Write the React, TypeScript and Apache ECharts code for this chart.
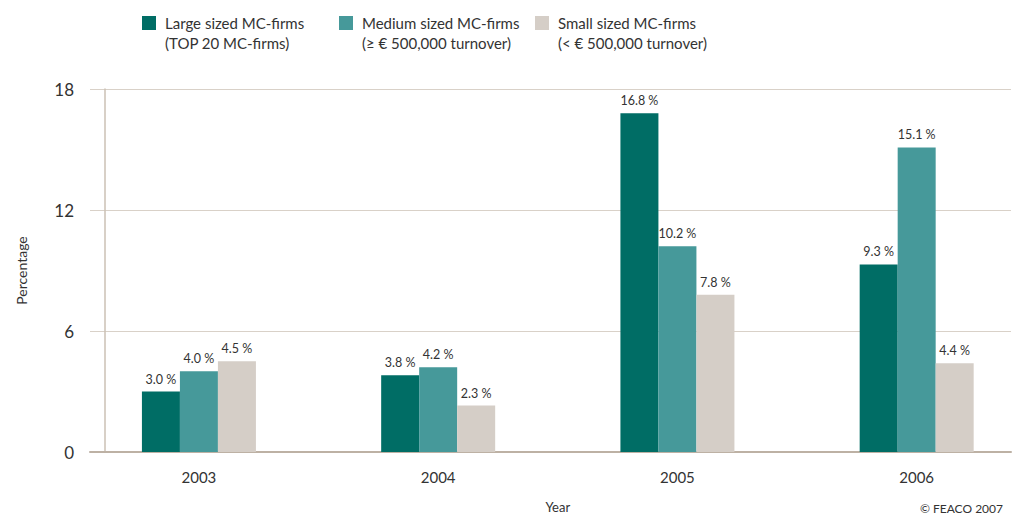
import React, { useEffect, useRef } from "react";
import * as echarts from "echarts";

// Years on the category axis
const years = ["2003", "2004", "2005", "2006"];

// Growth per firm size class, in percent
const largeFirms = [3.0, 3.8, 16.8, 9.3];
const mediumFirms = [4.0, 4.2, 10.2, 15.1];
const smallFirms = [4.5, 2.3, 7.8, 4.4];

// Legend names (first line) and their sub-captions (second line)
const seriesNames = ["Large sized MC-firms", "Medium sized MC-firms", "Small sized MC-firms"];
const seriesNotes = ["(TOP 20 MC-firms)", "(≥ € 500,000 turnover)", "(< € 500,000 turnover)"];
const seriesColors = ["#006d65", "#46999a", "#d5cec7"];

// Value axis ticks
const yMin = 0;
const yMax = 18;
const yStep = 6;

const FONT = "Lato, 'Open Sans', sans-serif";
const TEXT = "#333333";

export default function App() {
  const ref = useRef<HTMLDivElement>(null);

  useEffect(() => {
    if (!ref.current) return;
    const chart = echarts.init(ref.current, undefined, { renderer: "svg" });

    const top = 89;
    const height = 363;
    const legendLefts = [142, 339, 535];
    const seriesData = [largeFirms, mediumFirms, smallFirms];

    const option: any = {
      animation: false,
      backgroundColor: "#ffffff",
      textStyle: { fontFamily: FONT },
      grid: [
        // gridlines and tick labels
        { left: 90, top, width: 921, height, outerBoundsMode: "none" },
        // vertical axis line
        { left: 105, top, width: 1, height, outerBoundsMode: "none" },
        // bars
        { left: 79.3, top, width: 957, height, outerBoundsMode: "none" },
      ],
      legend: seriesNames.map((name, i) => ({
        data: [name],
        left: legendLefts[i],
        top: 14,
        padding: 0,
        icon: "rect",
        itemWidth: 14,
        itemHeight: 14,
        selectedMode: false,
        textStyle: {
          fontFamily: FONT,
          fontSize: 15,
          lineHeight: 18,
          color: TEXT,
          padding: [0, 0, 0, 4],
        },
      })),
      xAxis: [
        {
          gridIndex: 0,
          type: "value",
          min: 0,
          max: 1,
          axisLine: { show: true, lineStyle: { color: "#bdb1a4", width: 2 } },
          axisTick: { show: false },
          axisLabel: { show: false },
          splitLine: { show: false },
        },
        {
          gridIndex: 1,
          type: "value",
          show: false,
        },
        {
          gridIndex: 2,
          type: "category",
          data: years,
          axisLine: { show: false },
          axisTick: { show: false },
          axisLabel: { fontFamily: FONT, fontSize: 15, color: TEXT, margin: 17 },
          name: "Year",
          nameLocation: "middle",
          nameGap: 48,
          nameTextStyle: { fontFamily: FONT, fontSize: 13, color: TEXT },
        },
      ],
      yAxis: [
        {
          gridIndex: 0,
          type: "value",
          min: yMin,
          max: yMax,
          interval: yStep,
          axisLine: { show: false },
          axisTick: { show: false },
          axisLabel: {
            fontFamily: FONT,
            fontSize: 17,
            color: TEXT,
            margin: 16,
            padding: [0, 0, 7, 0],
          },
          splitLine: { show: true, lineStyle: { color: "#d9d1c8", width: 1.2 } },
          name: "Percentage",
          nameLocation: "middle",
          nameRotate: 90,
          nameGap: 62,
          nameTextStyle: { fontFamily: FONT, fontSize: 14, color: TEXT },
        },
        {
          gridIndex: 1,
          type: "value",
          min: yMin,
          max: yMax,
          axisLine: { show: true, lineStyle: { color: "#cbc1b5", width: 1.5 } },
          axisTick: { show: false },
          axisLabel: { show: false },
          splitLine: { show: false },
        },
        {
          gridIndex: 2,
          type: "value",
          min: yMin,
          max: yMax,
          show: false,
          splitLine: { show: false },
        },
      ],
      series: seriesNames.map((name, i) => ({
        name,
        type: "bar",
        xAxisIndex: 2,
        yAxisIndex: 2,
        data: seriesData[i],
        barWidth: 38,
        barGap: "0%",
        itemStyle: { color: seriesColors[i] },
        label: {
          show: true,
          position: "top",
          distance: 6,
          fontFamily: FONT,
          fontSize: 12.5,
          color: TEXT,
          formatter: (p: any) => `${Number(p.value).toFixed(1)} %`,
        },
      })),
      graphic: [
        ...seriesNotes.map((note, i) => ({
          type: "text",
          x: legendLefts[i] + 23,
          y: 43,
          style: {
            text: note,
            font: `15px ${FONT}`,
            fill: TEXT,
            verticalAlign: "middle",
          },
        })),
        {
          type: "text",
          x: 1003,
          y: 508,
          style: {
            text: "© FEACO 2007",
            font: `12px ${FONT}`,
            fill: TEXT,
            align: "right",
            verticalAlign: "middle",
          },
        },
      ],
    };

    chart.setOption(option);
    return () => chart.dispose();
  }, []);

  return (
    <div
      ref={ref}
      style={{ width: 1016, height: 518, position: "absolute", left: 0, top: 0 }}
    />
  );
}
